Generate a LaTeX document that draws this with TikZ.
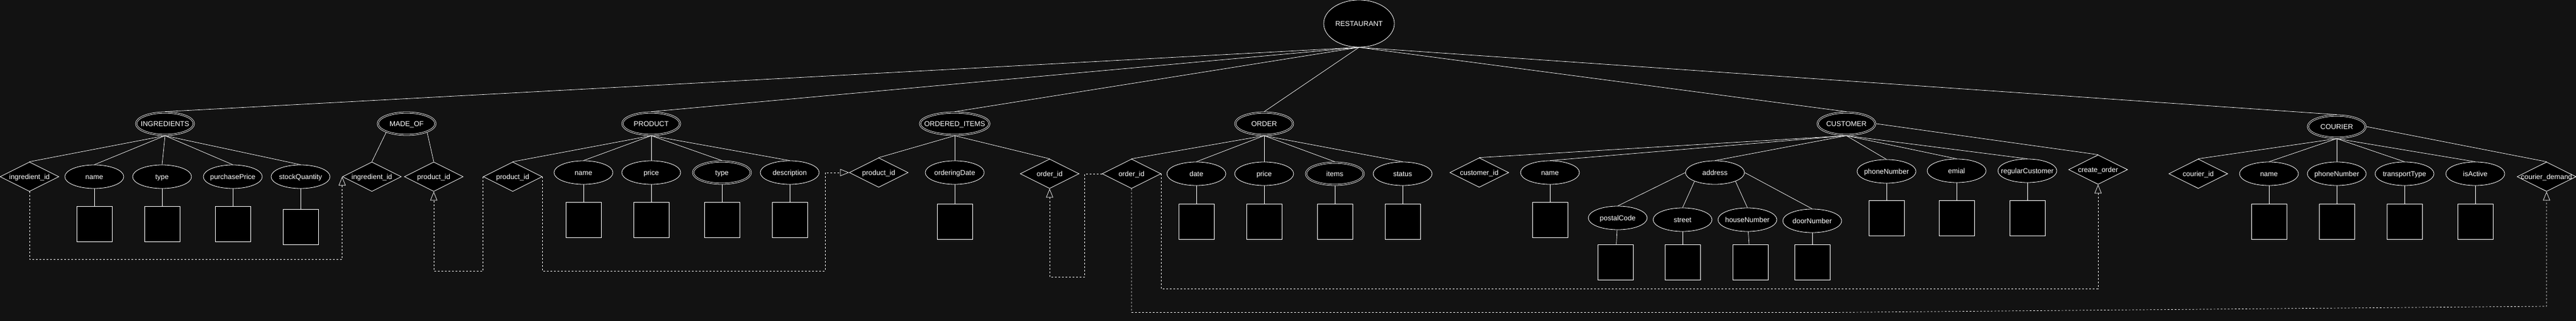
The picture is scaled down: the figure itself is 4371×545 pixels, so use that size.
\documentclass[tikz,border=0pt]{standalone}
\usepackage{fontspec}
\setmainfont{Liberation Sans}
\usetikzlibrary{shapes.geometric, arrows.meta}
\definecolor{bgcol}{RGB}{18,18,18}
\tikzset{
  erbase/.style={draw=white, fill=black, text=white, line width=0.8pt, inner sep=0pt,
    font=\fontsize{12}{14}\selectfont, text height=10.9pt, text depth=2.5pt,
    execute at begin node={\hbox to 0pt\bgroup\hss}, execute at end node={\hss\egroup}},
  entity/.style={erbase, ellipse, double=black, double distance=1.4pt,
    minimum width=97.8pt, minimum height=37.8pt, outer sep=1.5pt},
  multi/.style={entity},
  attr/.style={erbase, ellipse, minimum width=100pt, minimum height=40pt},
  keyattr/.style={erbase, diamond, minimum width=100pt, minimum height=50pt},
  valbox/.style={draw=white, fill=black, line width=0.8pt, inner sep=0pt,
    minimum width=60pt, minimum height=60pt},
  link/.style={white, line width=0.7pt},
  fk/.style={white, line width=0.7pt, dash pattern=on 3pt off 3pt,
    -{Triangle[open, length=15pt, width=12pt]}}
}

\begin{document}
\begin{tikzpicture}[x=1pt, y=-1pt]
    % Page and background
    \fill[bgcol] (0,0) rectangle (4371,545);
    \useasboundingbox (0,0) rectangle (4371,545);

    % Entities
    \node[attr, minimum width=120pt, minimum height=80pt] (rest) at (2306,40) {RESTAURANT};
    \node[entity] (ingr) at (280,210) {INGREDIENTS};
    \node[entity] (madeof) at (690,210) {MADE\_OF};
    \node[entity] (prod) at (1105,210) {PRODUCT};
    \node[entity, minimum width=117.8pt] (oitems) at (1620,210) {ORDERED\_ITEMS};
    \node[entity] (order) at (2145,210) {ORDER};
    \node[entity] (cust) at (3133,210) {CUSTOMER};
    \node[entity] (cour) at (3965,215) {COURIER};

    % INGREDIENTS attributes
    \node[keyattr] (ingrid) at (50,300) {ingredient\_id};
    \node[attr] (ingrname) at (160,300) {name};
    \node[attr] (ingrtype) at (275,300) {type};
    \node[attr] (ingrprice) at (395,300) {purchasePrice};
    \node[attr] (ingrqty) at (510,300) {stockQuantity};

    % MADE_OF keys
    \node[keyattr] (moingr) at (631,300) {ingredient\_id};
    \node[keyattr] (moprod) at (736,300) {product\_id};

    % PRODUCT attributes
    \node[keyattr] (prodid) at (870,300) {product\_id};
    \node[attr] (prodname) at (990,293) {name};
    \node[attr] (prodprice) at (1105,293) {price};
    \node[multi] (prodtype) at (1225,293) {type};
    \node[attr] (proddesc) at (1340,293) {description};

    % ORDERED_ITEMS attributes
    \node[keyattr] (oiprod) at (1491,293) {product\_id};
    \node[attr] (oidate) at (1620,293) {orderingDate};
    \node[keyattr] (oiorder) at (1781,295) {order\_id};

    % ORDER attributes
    \node[keyattr] (ordid) at (1920,295) {order\_id};
    \node[attr] (orddate) at (2030,295) {date};
    \node[attr] (ordprice) at (2145,295) {price};
    \node[multi] (orditems) at (2265,295) {items};
    \node[attr] (ordstatus) at (2380,295) {status};

    % CUSTOMER attributes
    \node[keyattr] (custid) at (2510,293) {customer\_id};
    \node[attr] (custname) at (2630,293) {name};
    \node[attr] (address) at (2910,293) {address};
    \node[attr] (postal) at (2745,370) {postalCode};
    \node[attr] (street) at (2855,373) {street};
    \node[attr] (house) at (2965,373) {houseNumber};
    \node[attr] (door) at (3075,375) {doorNumber};
    \node[attr] (custphone) at (3201,291) {phoneNumber};
    \node[attr] (custmail) at (3320,290) {emial};
    \node[attr] (custreg) at (3440,290) {regularCustomer};
    \node[keyattr] (create) at (3560,288) {create\_order};

    % COURIER attributes
    \node[keyattr] (courid) at (3730,295) {courier\_id};
    \node[attr] (courname) at (3850,295) {name};
    \node[attr] (courphone) at (3965,295) {phoneNumber};
    \node[attr] (courtrans) at (4080,295) {transportType};
    \node[attr] (couractive) at (4200,295) {isActive};
    \node[keyattr] (courdemand) at (4321,300) {courier\_demand};

    % Value boxes under the attributes
    \foreach \a/\x/\y in {ingrname/160/380, ingrtype/275/380, ingrprice/395/380, ingrqty/510/385,
        prodname/990/373, prodprice/1105/373, prodtype/1225/373, proddesc/1340/373,
        oidate/1620/376, orddate/2030/376, ordprice/2145/376, orditems/2265/376, ordstatus/2380/376,
        custname/2630/373, postal/2741/445, street/2855/445, house/2970/445, door/3075/445,
        custphone/3201/370, custmail/3320/370, custreg/3440/370,
        courname/3850/376, courphone/3965/376, courtrans/4080/376, couractive/4200/376} {
        \node[valbox] (\a box) at (\x,\y) {};
        \draw[link] (\a) -- (\a box);
    }

    % RESTAURANT to entities
    \foreach \e in {ingr, prod, oitems, order, cust, cour} {
        \draw[link] (rest.south) -- (\e.north);
    }

    % Entities to attributes
    \foreach \a in {ingrid, ingrname, ingrtype, ingrprice, ingrqty} {
        \draw[link] (ingr.south) -- (\a.north);
    }
    \draw[link] (madeof.203) -- (moingr.north);
    \draw[link] (madeof.337) -- (moprod.north);
    \foreach \a in {prodid, prodname, prodprice, prodtype, proddesc} {
        \draw[link] (prod.south) -- (\a.north);
    }
    \foreach \a in {oiprod, oidate, oiorder} {
        \draw[link] (oitems.south) -- (\a.north);
    }
    \foreach \a in {ordid, orddate, ordprice, orditems, ordstatus} {
        \draw[link] (order.south) -- (\a.north);
    }
    \foreach \a in {custid, custname, address, custphone, custmail, custreg} {
        \draw[link] (cust.south) -- (\a.north);
    }
    \draw[link] (cust.east) -- (create.north);
    \draw[link] (address.west) -- (postal.north);
    \draw[link] (address.203) -- (street.north);
    \draw[link] (address.337) -- (house.north);
    \draw[link] (address.east) -- (door.north);
    \foreach \a in {courid, courname, courphone, courtrans, couractive} {
        \draw[link] (cour.south) -- (\a.north);
    }
    \draw[link] (cour.east) -- (courdemand.north);

    % Foreign keys (dashed)
    \draw[fk] (ingrid.south) -- ++(0,115) -| (moingr.west);
    \draw[fk] (prodid.west) -- ++(0,160) -| (moprod.south);
    \draw[fk] (prodid.east) -- ++(0,160) -- ++(480,0) |- (oiprod.west);
    \draw[fk] (ordid.west) -- ++(-29,0) -- ++(0,175) -| (oiorder.south);
    \draw[fk] (ordid.east) -- ++(0,195) -| (create.south);
    \coordinate (dmdbend) at (4321,520);
    \draw[fk] (ordid.south) -- ++(0,210) -- ++(1200,0) -- (dmdbend) -- (courdemand.south);

\end{tikzpicture}
\end{document}
